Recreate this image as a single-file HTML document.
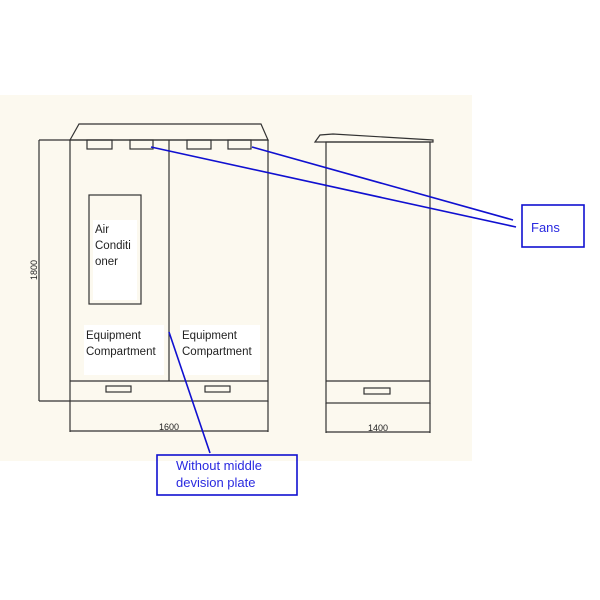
<!DOCTYPE html>
<html><head><style>
body{margin:0;width:600px;height:600px;background:#fff;overflow:hidden}
svg{display:block}
text{font-family:"Liberation Sans",sans-serif}
</style></head><body>
<svg width="600" height="600" viewBox="0 0 600 600">
<rect x="0" y="95" width="472" height="366" fill="#fcf9ef"/>
<g stroke="#333" stroke-width="1.2" fill="none">
<polygon points="70,140 79,124 261,124 268,140"/>
<rect x="70" y="140" width="198" height="261"/>
<rect x="87" y="140" width="25" height="9"/><rect x="130" y="140" width="23" height="9"/>
<rect x="187" y="140" width="24" height="9"/><rect x="228" y="140" width="23" height="9"/>
<line x1="169" y1="140" x2="169" y2="381"/>
<line x1="70" y1="381" x2="268" y2="381"/>
<rect x="106" y="386" width="25" height="6"/><rect x="205" y="386" width="25" height="6"/>
<line x1="39" y1="140" x2="70" y2="140"/><line x1="39" y1="401" x2="70" y2="401"/>
<line x1="39" y1="140" x2="39" y2="401"/>
<line x1="70" y1="401" x2="70" y2="432"/><line x1="268" y1="401" x2="268" y2="432"/>
<line x1="70" y1="431" x2="268" y2="431"/>
<rect x="89" y="195" width="52" height="109"/>
<polygon points="315,142 320,135 333,134 433,140 433,142"/>
<rect x="326" y="142" width="104" height="261"/>
<line x1="326" y1="381" x2="430" y2="381"/>
<rect x="364" y="388" width="26" height="6"/>
<line x1="326" y1="403" x2="326" y2="433"/><line x1="430" y1="403" x2="430" y2="433"/>
<line x1="326" y1="432" x2="430" y2="432"/>
</g>
<rect x="93" y="220" width="44" height="80" fill="#fff"/>
<rect x="84" y="325" width="80" height="50" fill="#fff"/>
<rect x="180" y="325" width="80" height="50" fill="#fff"/>
<g font-size="11.5" fill="#222">
<text x="95" y="233">Air</text><text x="95" y="249">Conditi</text><text x="95" y="265">oner</text>
<text x="86" y="339">Equipment</text><text x="86" y="355">Compartment</text>
<text x="182" y="339">Equipment</text><text x="182" y="355">Compartment</text>
</g>
<g font-size="9" fill="#222">
<text x="169" y="430" text-anchor="middle">1600</text>
<text x="378" y="431" text-anchor="middle">1400</text>
<text transform="translate(37,270) rotate(-90)" text-anchor="middle">1800</text>
</g>
<g stroke="#1010d0" stroke-width="1.6" fill="none">
<line x1="252" y1="147" x2="513" y2="220"/>
<line x1="151" y1="147" x2="516" y2="227"/>
<line x1="169" y1="332" x2="210" y2="453"/>
<rect x="522" y="205" width="62" height="42"/>
<rect x="157" y="455" width="140" height="40"/>
</g>
<g font-size="13" fill="#2a2ae0">
<text x="531" y="232">Fans</text>
<text x="176" y="470">Without middle</text>
<text x="176" y="487">devision plate</text>
</g>
</svg>
</body></html>
